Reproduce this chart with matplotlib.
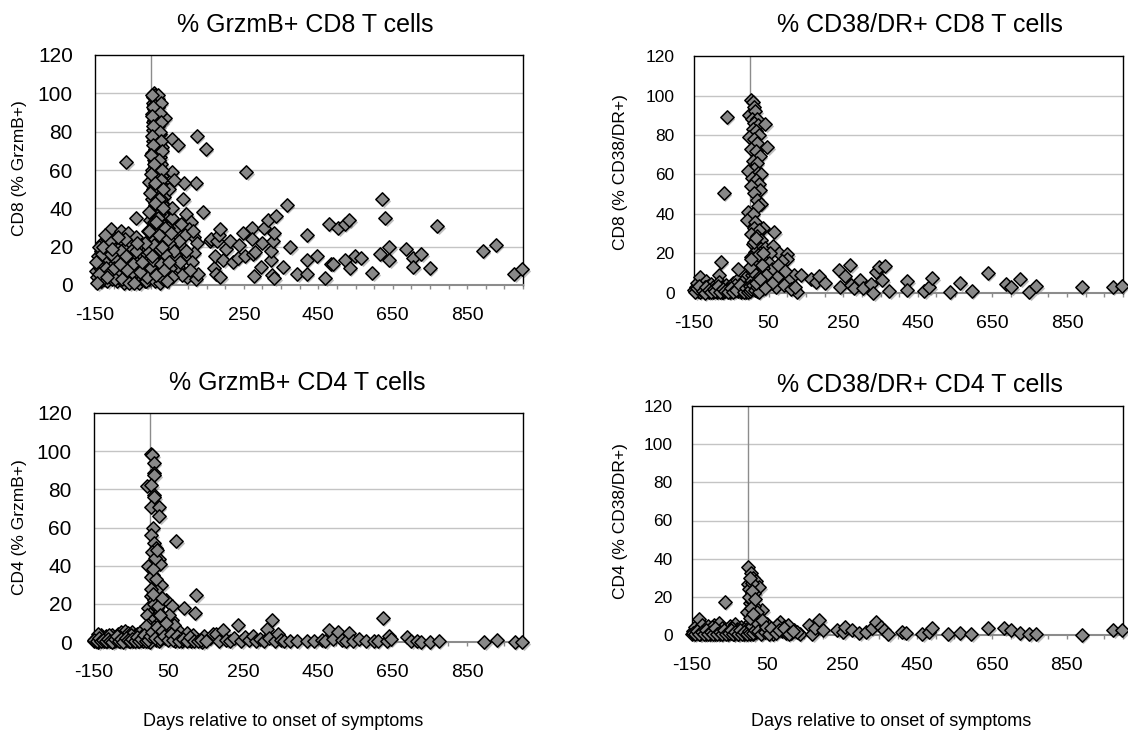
import matplotlib
matplotlib.use("Agg")
import matplotlib.pyplot as plt
import matplotlib.transforms as mtransforms
from matplotlib.ticker import MultipleLocator, FixedLocator

plt.rcParams['font.family'] = ['Liberation Sans', 'DejaVu Sans']
plt.rcParams['axes.unicode_minus'] = False

# Data (days relative to onset, % positive)
cd8_grzmb_days = [
    -148, -145, -143, -141, -139, -137, -135, -133, -131, -129, -127, -125, -123, -121, -119, -117,
    -115, -113, -111, -109, -107, -105, -103, -101, -99, -97, -95, -93, -91, -89, -87, -85, -83, -81,
    -79, -77, -75, -73, -71, -69, -67, -65, -63, -61, -59, -57, -55, -53, -51, -49, -47, -45, -43, -41,
    -39, -37, -35, -33, -31, -29, -27, -25, -23, -21, -19, -17, -15, -13, -11, -9, -7, -5, -3,
    -140, -130, -120, -110, -100, -90, -80, -70, -60, -50, -40, -30, -20, -10, -66, -39, -12, -135, -115, -95,
    8, 12, 15, 10, 18, 6, 14, 20, 9, 16, 12, 3, 22, 38, 10, 17, 7, 14, 20, 11, 5, 16, 24, 9, 13, 19, 6, 15,
    22, 30, 10, 17, 4, 12, 25, 20, 8, 15, 28, 11, 18, 3, 22, 13, 30, 7, 17, -5, 24, 12, 32, 9, 19, 26, 14,
    35, 4, 21, 29, 11, 36, 17, 25, 8, 32, 14, 40, 20, -3, 28, 12, 35, 22, 6, 30, 16, 42, 24, 10, 33, 18, 45,
    27, 2, 38, 14, 30, 22, 8, 40, 26, 16, 34, 4, 20, 44, 28, 12, 36, 18, 10, 24,
    5, 18, 9, 15, 8, 19, 13, 6, 16, 20, 10, 16, 24, 7, 28, 15, 22, 9, 31,
    56, 73, 123, 147, 139, 121, 90, 87, 56, 58, 58, 66, 68, 73, 83, 95, 107, 102, 100, 97, 116, 124, 116,
    121, 128, 62, 48, 80, 92, 110, 85, 75, 50, 104, 62, 78, 95, 45, 112,
    160, 163, 170, 173, 175, 179, 182, 186, 187, 194, 202, 213, 220, 233, 237, 247, 252, 257, 272, 272,
    274, 276, 279, 296, 299, 304, 315, 322, 323, 325, 328, 330, 332, 336, 356, 365, 375, 393, 419, 419,
    419, 446, 468, 478, 484, 489, 504, 521, 522, 533, 534, 548, 565, 595, 615, 622, 630, 640, 640, 686,
    705, 705, 727, 749, 769, 892, 927, 976, 998,
    4, 26, 6, 24, 3, 28, 5, 25, 2, 27, 7, 29, 1, 23, 8, 31, 0, 26, 10, 33, -2, 21, 12, 34, -6, 19, 15, 37,
    -8, 30,
    -18, -14, -9, -4, 0, 5, 9, 15, 21, 27, 33, 39, 46, 52, 58, -16, -6, 3, 13, 24, 36, 49, 55, 43, 31,
    -146, -138, -128, -118, -108, -98, -88, -78, -68, -58, -48, -38, -28, -144, -124, -104, -84, -64, -44, -24]
cd8_grzmb_pct = [
    7.5, 4, 12, 15, 2, 9, 18, 5, 22, 11, 3, 14, 7, 19, 24, 2, 9, 13, 5, 17, 29, 8, 3, 21, 11, 6, 15, 25,
    2, 10, 19, 13, 4, 28, 7, 17, 23, 1, 11, 6, 20, 14, 3, 27, 9, 16, 5, 22, 12, 2, 19, 8, 14, 25, 4, 11,
    17, 6, 1, 13, 21, 9, 3, 15, 7, 12, 2, 18, 5, 10, 14, 3, 8,
    20, 16, 9, 23, 14, 6, 18, 24, 12, 7, 18, 10, 5, 16, 64, 35, 2, 2, 6, 3,
    100, 99, 98, 97, 97, 95, 94, 93, 92, 91, 90, 89, 88, 87, 87, 86, 85, 84, 83, 82, 81, 80, 79, 78, 77,
    76, 75, 74, 73, 72, 71, 70, 69, 68, 67, 66, 65, 64, 63, 62, 61, 60, 59, 58, 57, 56, 55, 54, 53, 52,
    51, 50, 49, 48, 47, 46, 45, 44, 43, 42, 41, 40, 39, 38, 37, 36, 35, 34, 34, 33, 32, 31, 30, 29, 28,
    27, 26, 25, 24, 23, 22, 21, 20, 19, 18, 17, 16, 15, 14, 13, 12, 11, 10, 9, 8, 7, 6, 5, 4, 3, 2, 1,
    98, 99, 94, 89, 86, 84, 80, 77, 72, 68, 64, 58, 56, 50, 45, 42, 37, 33, 30,
    76, 73, 78, 71, 38, 53, 53, 45, 59, 35, 40, 29, 15, 9.6, 20, 37, 33, 29, 15, 4.3, 25, 22, 16.5,
    3, 6, 55, 50, 32, 26, 12, 5, 23, 22, 8, 18, 12, 18, 30, 28,
    23, 24, 9, 15, 6, 23, 26, 4.3, 29, 13, 19, 23, 12, 14, 21, 27, 15, 59, 30, 24,
    16, 4.7, 17, 9.6, 22, 30, 34, 13, 18, 5.2, 23, 27, 3.5, 36, 9.6, 42, 20, 6, 26, 13,
    5.7, 15, 3.8, 32, 11, 11, 30, 32, 13, 34, 8.7, 15, 14, 6.4, 16, 45, 35, 20, 13, 19,
    14, 9.6, 16, 8.7, 31, 18, 21, 5.7, 8.3,
    99, 95, 93, 90, 88, 85, 83, 80, 78, 75, 73, 70, 68, 65, 63, 60, 58, 55, 53, 50, 48, 45, 43, 40, 38,
    35, 33, 30, 28, 25,
    6, 12, 4, 17, 9, 13, 21, 6, 26, 11, 3, 16, 24, 9, 4, 22, 28, 15, 5, 19, 8, 12, 27, 2, 20,
    12, 6, 20, 4, 16, 9, 25, 3, 15, 1, 11, 22, 7, 1, 26, 19, 11, 8, 1, 12]

cd8_cd38_days = [
    -150, -145, -141, -138, -135, -133, -131, -128, -125, -122, -119, -116, -113, -110, -107, -104, -101,
    -98, -95, -92, -89, -86, -84, -82, -80, -78, -76, -73, -70, -68, -65, -62, -60, -57, -54, -51, -48,
    -45, -42, -39, -36, -33, -31, -28, -25, -22, -19, -16, -13, -10, -8, -5, -3,
    -130, -120, -100, -90, -75, -55, -40, -20,
    2, 7, -3, 10, 14, 5, 18, 12, 22, 41, 8, 16, 25, -2, 10, 20, 46, 4, 15, 26, 8, 18, 12, -4, 22, 29, 6,
    16, 24, 2, 26, 12, 20, 29, 21, -5, 8, -7, 14, 12, 36, 25, 4, 18, 30, 7, 22, 40, 13, 28, 3, 35, 18,
    9, 25, 42, 15, 31, 5, 20, 38, 12, 27, 45, 8, 33, 18, 2, 24, 48,
    65, 62, 79, 100, 98, 79, 89, 70, 127, 117, 136, 103, 55, 50, 60, 72, 85, 92, 110, 58, 75, 95, 120,
    164, 176, 186, 202, 238, 241, 254, 269, 272, 279, 295, 303, 325, 330, 339, 347, 354, 361, 373, 421,
    421, 467, 481, 489, 535, 564, 595, 638, 686, 701, 725, 749, 768, 889, 973, 996,
    -147, -143, -137, -127, -121, -117, -111, -105, -97, -93, -87, -81, -71, -66, -58, -52, -46, -37,
    -27, -17, -11, -6, -1, 0, 4, 9, 14, 19, 24, 29, 34, 39, 44, 11, 16, 21, 26, 31, 6, 36, 1, 3, 12, 17]
cd8_cd38_pct = [
    1.7, 3, 5, 1, 0.5, 8, 2, 4, 0.8, 2.5, 6, 1, 3.5, 0.3, 2, 4.5, 1.2, 0.5, 3, 1.8, 0.4, 2.5, 9, 5.5, 1,
    15.7, 3, 0.6, 50.5, 2, 4, 89, 1, 2.8, 0.5, 3.5, 1.5, 5, 0.8, 2.2, 6.5, 1, 12.3, 3, 0.5, 2, 4.5, 1.2,
    7, 0.6, 3, 9, 1.5,
    1.5, 3.2, 2.8, 1, 0.3, 1.8, 3.8, 0.9,
    97.6, 96.5, 90, 94, 92, 88, 88, 86, 85, 85.5, 83, 82, 80, 79, 78, 76, 74, 73, 72, 69.5, 67, 66, 63,
    62, 61, 60, 58, 57, 55, 54, 52, 50.5, 47, 45, 44, 41, 40, 37, 36, 33, 33, 32, 30, 29, 27, 25, 24, 23,
    21, 20, 18, 17, 16, 14, 13, 12, 11, 10, 9, 8, 7, 6, 5, 4, 3, 2, 1, 6, 9, 6,
    31, 24, 20, 19.5, 17, 13, 10, 3, 0.3, 9, 9, 6.4, 20, 15, 12, 8, 16, 4, 2, 5, 14, 11, 3,
    7.2, 5.6, 8.4, 5, 11.8, 3, 8.4, 14, 3.9, 2.7, 6.4, 2.7, 4.7, 0.2, 10.6, 13, 6.4, 13.5, 0.8, 5.9,
    1.3, 0.8, 3, 7.7, 0.5, 5, 0.8, 10, 4.4, 3, 7.2, 0.5, 3.4, 3, 3, 3.5,
    0.5, 2.5, 3.5, 1, 0.2, 2.8, 1.5, 0.4, 2.2, 0.8, 3.6, 0.3, 2, 1.2, 0.3, 2.5, 0.6, 1.3, 4, 0.4, 2.3,
    0.5, 3.5, 1, 2, 4, 1.5, 3, 0.5, 7.5, 12.5, 2.5, 9, 15, 5, 19, 7, 14, 11, 20, 13, 17, 26, 28]

cd4_grzmb_days = [
    -150, -147, -144, -141, -138, -135, -132, -129, -126, -123, -120, -117, -114, -111, -108, -105, -102,
    -99, -96, -93, -90, -87, -84, -81, -78, -75, -72, -69, -66, -63, -60, -57, -54, -51, -48, -45, -42,
    -39, -36, -33, -30, -27, -24, -21, -18, -15, -12, -9, -6, -3, -140, -110, -80, -50, -20,
    3, 6, 10, 10, 12, -7, 3, 10, 12, 3, 23, 25, 8, 3, 11, 15, 6, 23, 28, -5, 8, 3, 30, 15, 3, 12, 20, -4,
    8, 25, -8, 15, 33, 5, 22, -6, 12, 35, 2, 18, 28, 8, 40, 15, 25, 0, -10, 20, 30, 10, 38,
    44, 59, 90, 120, 124, 71, 58, 50, 65, 80, 95, 110, 130, 145, 75, 100, 48, 85, 140, 115, 55, 68, 105,
    160, 170, 178, 185, 197, 205, 215, 225, 236, 245, 255, 265, 275, 285, 295, 305, 313, 320, 327, 335,
    342, 350, 360, 375, 395, 420, 440, 460, 470, 480, 490, 505, 515, 525, 534, 545, 560, 580, 600, 610,
    624, 635, 641, 645, 690, 700, 715, 726, 750, 774, 896, 930, 978, 998,
    -149, -143, -137, -131, -125, -119, -113, -107, -101, -95, -89, -83, -77, -71, -65, -59, -53, -47,
    -41, -35, -29, -23, -17, -11, -5, 1, 6, 14, 19, 26, 31, 37, 43, 49, 56, 62, 72, 78, 88, 98, 108, 118,
    128, 136, 150, 4, 9, 16, 21, 27, 33, 7, 13, 18]
cd4_grzmb_pct = [
    0.3, 1.5, 0.5, 2.5, 0.2, 1, 3.5, 0.8, 2, 0.3, 1.5, 3, 0.5, 2.2, 1, 0.3, 3.8, 1.2, 0.5, 2.5, 0.8, 4,
    1.5, 0.3, 5, 2, 0.6, 3, 6, 1, 4.5, 0.4, 2.5, 1, 5, 0.5, 3, 1.5, 4, 0.3, 2, 5.5, 1, 3, 0.5, 2.5, 4.5,
    1, 0.3, 2, 4, 3.5, 2.8, 3.5, 1.8,
    98.7, 98, 94, 88.6, 87.5, 81.6, 82.4, 77, 76, 71, 71, 66, 60, 56, 52, 49, 47, 43.5, 41, 40, 35, 34,
    30, 27.4, 24, 22, 20, 18, 16, 15, 14, 13, 12, 11, 10, 9, 8, 7, 6, 5, 4, 3, 2, 1, 0.5, 0.2, 8.5, 18,
    9, 20, 12,
    22, 18.7, 17.8, 15.2, 24.5, 53, 11.7, 14, 9, 5, 2, 0.5, 1, 3, 1.5, 4.5, 6, 0.3, 0.2, 3.5, 2.5, 0.5, 1,
    2, 4, 4.4, 0.5, 6.5, 1, 0.3, 2, 9, 0.5, 2.5, 1, 3, 0.5, 1.5, 0.3, 7, 2, 11.7, 0.5, 4.4, 1, 0.3, 0.5,
    0.3, 0.5, 0.3, 1, 0.5, 6.5, 1.5, 5, 1, 0.3, 4.7, 0.5, 1.5, 0.3, 0.5, 0.3, 12.6, 0.5, 3.3, 1.5, 2.6,
    0.5, 0.3, 0, 0, 0.3, 0, 0.9, 0, 0,
    1, 0.3, 2, 0.6, 1.2, 0.3, 1.8, 0.5, 0.2, 1.6, 3, 0.5, 1.5, 0.2, 2.2, 0.8, 0.3, 1.8, 0.5, 2.6, 0.4,
    1.5, 3.5, 0.3, 1.2, 3, 5, 2, 8, 1.5, 6, 3, 10, 0.8, 4, 1, 3, 0.3, 1.5, 0.5, 2.5, 0.3, 0.5, 1.2, 0.3,
    28, 25, 33, 19, 14, 23, 38, 44, 48]

cd4_cd38_days = [
    -150, -146, -143, -140, -137, -134, -131, -128, -125, -122, -119, -116, -113, -110, -107, -104, -101,
    -98, -95, -92, -89, -86, -83, -80, -78, -75, -72, -69, -66, -62, -60, -57, -54, -51, -48, -45, -42,
    -39, -35, -32, -29, -26, -23, -20, -17, -14, -11, -8, -5, -2, -135, -115, -97, -70, -44,
    -1, 7, 13, 20, 30, -1, 9, 4, 13, 37, 2, 6, 10, 15, 3, 8, 18, 22, 5, 12, 25, 2, 16, 30, 8, 20, 35, 4,
    14, 28, 40, 10, 5, 16, -3, 42,
    85, 95, 123, 137, 50, 60, 70, 78, 90, 100, 110, 65, 55, 105, 115, 130,
    162, 171, 179, 189, 200, 238, 253, 258, 277, 296, 315, 329, 342, 353, 363, 373, 411, 421, 464, 483,
    490, 534, 565, 595, 640, 683, 702, 724, 750, 769, 890, 974, 998,
    -148, -142, -136, -130, -124, -118, -112, -106, -100, -94, -88, -82, -76, -70, -64, -58, -52, -46,
    -40, -34, -28, -22, -16, -10, -4, 1, 5, 9, 14, 18, 23, 27, 33, 38, 44, 48, 55, 62, 74, 82, 96, 108,
    120, 3, 8, 11, 17, 24, 6, 12]
cd4_cd38_pct = [
    0.5, 2, 4, 0.8, 1.5, 3, 8.2, 0.3, 2.5, 5, 1, 3.2, 0.5, 2, 4.5, 1.2, 0.3, 3, 1.8, 5.5, 0.6, 2.5, 1, 4,
    6.5, 0.4, 2.2, 3.5, 0.8, 17.5, 1.5, 3, 0.3, 2, 4.8, 1, 2.7, 0.5, 5.8, 1.5, 3.3, 0.4, 2, 4, 1, 2.8,
    0.5, 3.5, 1.2, 2.5, 1, 1.8, 4.2, 1, 3.8,
    35.8, 32.7, 29.7, 28.5, 25, 26.7, 21.8, 16.6, 13, 13, 24, 20, 18, 15, 11, 9, 10, 8, 7, 6, 5, 4, 3.5,
    3, 2, 1.5, 1, 0.5, 0.3, 6, 4, 27, 30, 22, 12, 2,
    7, 4.4, 2.6, 0.5, 6, 3, 1.5, 5, 2, 0.8, 3, 0.5, 1.2, 5.5, 1, 1.5,
    5.2, 0.5, 3.5, 7.9, 2.6, 2.6, 1.7, 4, 2.6, 0.9, 1.7, 3.5, 7, 4.4, 2.6, 0.5, 1.7, 0.9, 0.5, 1.7, 3.5,
    0.5, 0.9, 0.5, 3.5, 3.5, 2.6, 0.9, 0.5, 0.5, 0, 2.6, 2.6,
    1.2, 0.3, 2.2, 0.5, 1.5, 0.3, 2.5, 0.6, 1.5, 0.3, 3.5, 0.4, 1.6, 0.3, 2.4, 0.6, 1, 2.8, 0.3, 1.6,
    0.4, 2.8, 0.5, 1.5, 0.3, 2, 1, 4.5, 0.8, 2.6, 6.5, 2.2, 0.6, 8, 1.6, 4, 0.3, 3.5, 1, 2.5, 3.5, 0.4,
    2, 20, 14, 23, 19, 12, 9, 11]

titles = ['% GrzmB+ CD8 T cells', '% CD38/DR+ CD8 T cells',
          '% GrzmB+ CD4 T cells', '% CD38/DR+ CD4 T cells']
ylabels = ['CD8 (% GrzmB+)', 'CD8 (% CD38/DR+)', 'CD4 (% GrzmB+)', 'CD4 (% CD38/DR+)']
xlabel = 'Days relative to onset of symptoms'
x_ticks = [-150, 50, 250, 450, 650, 850]
y_ticks = [0, 20, 40, 60, 80, 100, 120]

W, H = 1128, 734


def px_rect(left, right, top, bottom):
    """Convert pixel box to figure fraction rect"""
    return [left / W, 1 - bottom / H, (right - left) / W, (bottom - top) / H]


def draw_panel(fig, rect, days, pct, ytick_size, ypad):
    ax = fig.add_axes(rect)
    ax.set_xlim(-150, 1000)
    ax.set_ylim(0, 120)
    for y in y_ticks[1:-1]:
        ax.axhline(y, color='#c4c4c4', lw=1.0, zorder=0)
    ax.axvline(0, color='#8c8c8c', lw=1.0, zorder=1)
    for side in ['top', 'left', 'right']:
        ax.spines[side].set_color('black')
        ax.spines[side].set_linewidth(1.0)
    ax.spines['bottom'].set_color('#8c8c8c')
    ax.spines['bottom'].set_linewidth(1.5)

    # drop shadow under the markers, like the Excel original
    shadow = mtransforms.offset_copy(ax.transData, fig=fig, x=1.5, y=-2.0, units='dots')
    ax.scatter(days, pct, s=46, marker='D', color='black', alpha=0.25, lw=0,
               transform=shadow, clip_on=False, zorder=2)
    ax.scatter(days, pct, s=46, marker='D', facecolor='#888888', edgecolor='black',
               lw=1.1, clip_on=False, zorder=3)

    ax.xaxis.set_major_locator(FixedLocator(x_ticks))
    ax.xaxis.set_minor_locator(MultipleLocator(50))
    ax.set_yticks(y_ticks)
    ax.tick_params(axis='x', which='both', direction='out', length=3, width=1,
                   color='#8c8c8c', labelsize=14, pad=13)
    ax.tick_params(axis='y', length=0, labelsize=ytick_size, pad=ypad)
    return ax


def main():
    fig = plt.figure(figsize=(W / 100, H / 100), dpi=100)

    rects = [px_rect(95, 523, 55, 285), px_rect(694, 1123, 56, 293),
             px_rect(94, 523, 413, 642), px_rect(692, 1123, 406, 635)]
    data = [(cd8_grzmb_days, cd8_grzmb_pct), (cd8_cd38_days, cd8_cd38_pct),
            (cd4_grzmb_days, cd4_grzmb_pct), (cd4_cd38_days, cd4_cd38_pct)]
    ytick_sizes = [15, 12.5, 15, 12.5]
    ypads = [16, 14, 16, 14]
    for rect, (d, p), ts, pad in zip(rects, data, ytick_sizes, ypads):
        draw_panel(fig, rect, d, p, ts, pad)

    # titles and axis labels placed where the reference has them
    title_pos = [(305, 25), (920, 25), (297, 383), (920, 385)]
    for (x, y), t in zip(title_pos, titles):
        fig.text(x / W, 1 - y / H, t, fontsize=18, ha='center', va='center')
    ylabel_pos = [(20, 168), (621, 172), (20, 527), (621, 521)]
    for (x, y), t in zip(ylabel_pos, ylabels):
        fig.text(x / W, 1 - y / H, t, fontsize=12.5, rotation=90, ha='center', va='center')
    for x in [283, 891]:
        fig.text(x / W, 1 - 722 / H, xlabel, fontsize=13, ha='center', va='center')

    fig.savefig('out.png', dpi=100)


if __name__ == "__main__":
    main()
